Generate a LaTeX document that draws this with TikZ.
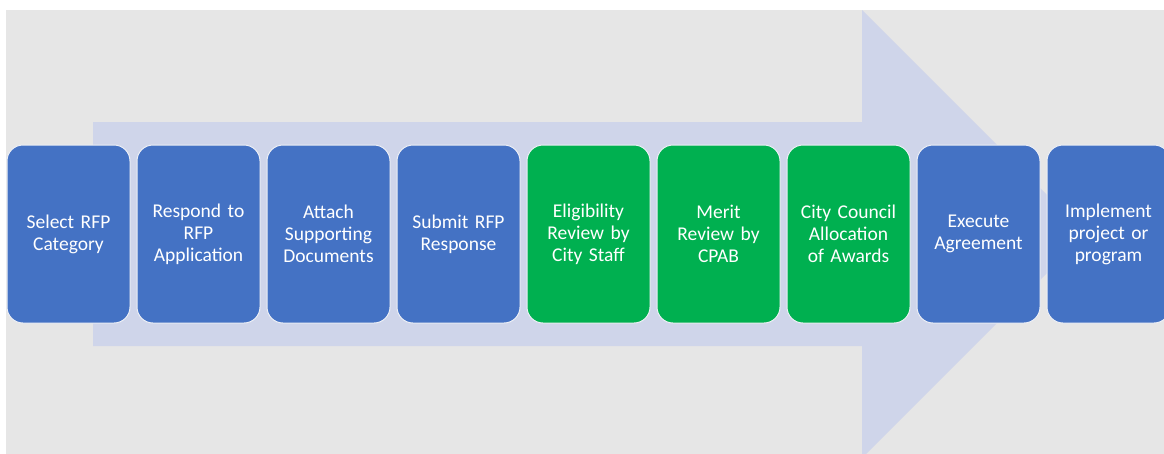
\documentclass[tikz,border=0pt]{standalone}
\usepackage{fontspec}
\setmainfont{Carlito}
\definecolor{bgray}{HTML}{E6E6E6}
\definecolor{arrowc}{HTML}{CFD5EA}
\definecolor{boxblue}{HTML}{4472C4}
\definecolor{boxgreen}{HTML}{00B050}
\definecolor{edgec}{HTML}{EEF0F6}
\tikzset{
  stepbox/.style={draw=edgec, line width=1pt, rounded corners=16pt,
    minimum width=123pt, minimum height=178pt, inner sep=2pt,
    text width=119pt, align=center, text=white,
    font=\fontsize{19.5}{22}\selectfont},
  bluebox/.style={stepbox, fill=boxblue},
  greenbox/.style={stepbox, fill=boxgreen}
}
\begin{document}
\begin{tikzpicture}[x=1pt,y=-1pt]
\useasboundingbox (0,0) rectangle (1164,453);
\begin{scope}
\clip (0,0) rectangle (1164,453);
\fill[bgray] (6,10) rectangle (1170,460);
\fill[arrowc] (93,122) -- (862,122) -- (862,10) -- (1086,234) -- (862,458) -- (862,346) -- (93,346) -- cycle;
\node[bluebox] (s1) at (68.5,234) {Select RFP\\Category};
\node[bluebox] (s2) at (198.5,234) {Respond to\\RFP\\Application};
\node[bluebox] (s3) at (328.5,234) {Attach\\Supporting\\Documents};
\node[bluebox] (s4) at (458.5,234) {Submit RFP\\Response};
\node[greenbox] (s5) at (588.5,234) {Eligibility\\Review by\\City Staff};
\node[greenbox] (s6) at (718.5,234) {Merit\\Review by\\CPAB};
\node[greenbox] (s7) at (848.5,234) {City Council\\Allocation\\of Awards};
\node[bluebox] (s8) at (978.5,234) {Execute\\Agreement};
\node[bluebox] (s9) at (1108.5,234) {Implement\\project or\\program};
\end{scope}
\end{tikzpicture}
\end{document}
